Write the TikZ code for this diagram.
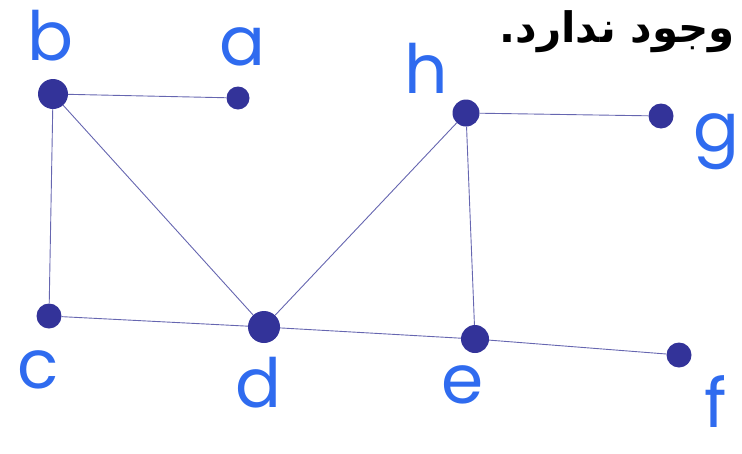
\documentclass[tikz,border=0pt]{standalone}
\usepackage{fontspec}
\usepackage{xcolor}
\usepackage{tikz}
\usetikzlibrary{positioning,calc}
\TeXXeTstate=1
\newfontfamily\arabicfont[Script=Arabic]{DejaVu Sans}
\newfontfamily\handfont{Poppins}

\definecolor{vertexNavy}{HTML}{333399}
\definecolor{edgeSlate}{HTML}{6666B0}
\definecolor{labelBlue}{HTML}{2F6BEF}

\begin{document}
\begin{tikzpicture}[
    x=1pt,
    y=-1pt,
    vertex/.style={circle, fill=vertexNavy, draw=none, inner sep=0pt, minimum size=25pt},
    edge/.style={draw=edgeSlate, line width=0.9pt},
    vlabel/.style={text=labelBlue, font=\handfont\fontsize{68}{68}\selectfont, inner sep=0pt}
]

% Frame: 742 x 453 px, y grows downwards
\useasboundingbox (0,0) rectangle (742,453);

% Vertices
\node[vertex, minimum width=28pt, minimum height=30pt] (b) at (53,94) {};
\node[vertex, minimum size=23pt] (a) at (238,98) {};
\node[vertex, minimum size=27pt] (h) at (466,113) {};
\node[vertex] (g) at (661,116) {};
\node[vertex] (c) at (49,316) {};
\node[vertex, minimum width=32pt, minimum height=29pt] (d) at (264,327) {};
\node[vertex, minimum size=28pt] (e) at (475,339) {};
\node[vertex] (f) at (679,355) {};

% Edges
\foreach \u/\v in {b/a, b/c, b/d, c/d, d/e, e/f, d/h, h/e, h/g}{
    \draw[edge] (\u) -- (\v);
}

% Vertex labels
\node[vlabel] (lb) at (50,36) {b};
\node[vlabel] (la) at (242,47) {a};
\node[vlabel] (lh) at (426,68) {h};
\node[vlabel] (lg) at (716,142) {g};
\node[vlabel] (lc) at (38,370) {c};
\node[vlabel] (ld) at (258,383) {d};
\node[vlabel] (le) at (463,385) {e};
\node[vlabel] (lf) at (716,402) {f};

% Caption text
\node[anchor=north east, inner sep=0pt, font=\arabicfont\bfseries\fontsize{42}{42}\selectfont] (note) at (735,10) {\beginR وجود ندارد.\endR};

\end{tikzpicture}
\end{document}
